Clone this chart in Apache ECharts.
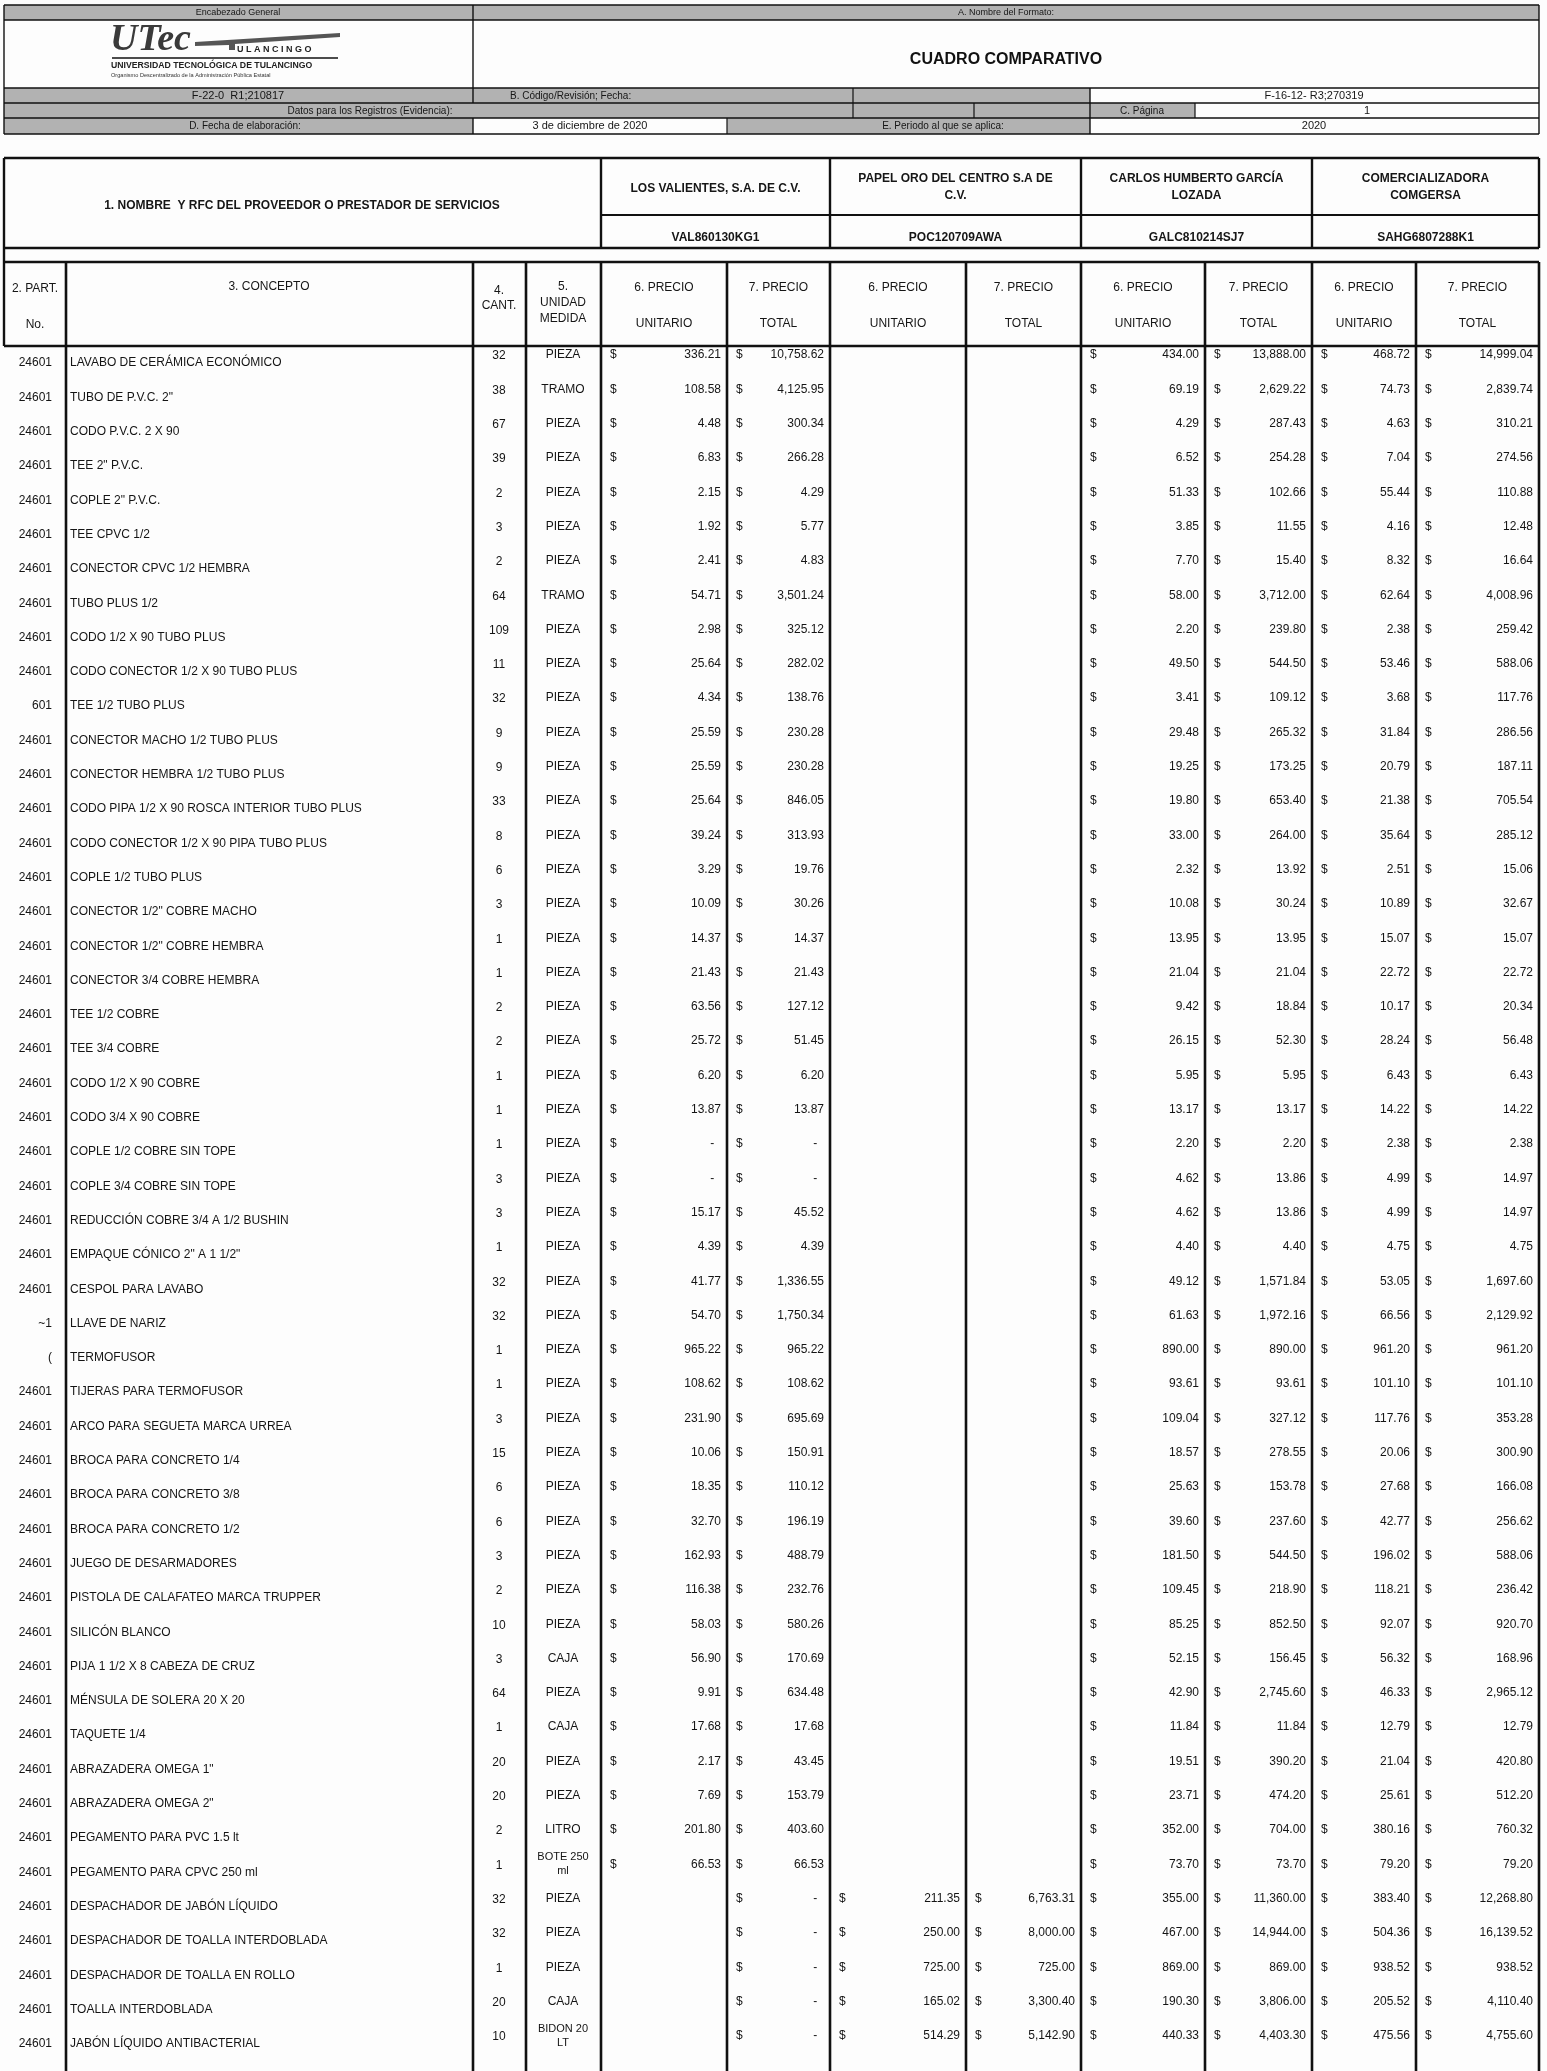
<!DOCTYPE html>
<html>
<head>
<meta charset="utf-8">
<script src="https://cdn.jsdelivr.net/npm/echarts@6/dist/echarts.min.js"></script>
<style>
  html, body { margin: 0; padding: 0; background: #fff; }
  #chart { width: 1547px; height: 2071px; }
</style>
</head>
<body>
<div id="chart"></div>
<script>
// ---- datos del cuadro comparativo ----
const partidas = ['24601','24601','24601','24601','24601','24601','24601','24601','24601','24601',
  '601','24601','24601','24601','24601','24601','24601','24601','24601','24601',
  '24601','24601','24601','24601','24601','24601','24601','24601','~1','(',
  '24601','24601','24601','24601','24601','24601','24601','24601','24601','24601',
  '24601','24601','24601','24601','24601','24601','24601','24601','24601','24601'];

const conceptos = [
  'LAVABO DE CERÁMICA ECONÓMICO', 'TUBO DE P.V.C. 2"', 'CODO P.V.C. 2 X 90', 'TEE 2" P.V.C.', 'COPLE 2" P.V.C.',
  'TEE CPVC 1/2', 'CONECTOR CPVC 1/2 HEMBRA', 'TUBO PLUS 1/2', 'CODO 1/2 X 90 TUBO PLUS', 'CODO CONECTOR 1/2 X 90 TUBO PLUS',
  'TEE 1/2 TUBO PLUS', 'CONECTOR MACHO 1/2 TUBO PLUS', 'CONECTOR HEMBRA 1/2 TUBO PLUS', 'CODO PIPA 1/2 X 90 ROSCA INTERIOR TUBO PLUS', 'CODO CONECTOR 1/2 X 90 PIPA TUBO PLUS',
  'COPLE 1/2 TUBO PLUS', 'CONECTOR 1/2" COBRE MACHO', 'CONECTOR 1/2" COBRE HEMBRA', 'CONECTOR 3/4 COBRE HEMBRA', 'TEE 1/2 COBRE',
  'TEE 3/4 COBRE', 'CODO 1/2 X 90 COBRE', 'CODO 3/4 X 90 COBRE', 'COPLE 1/2 COBRE SIN TOPE', 'COPLE 3/4 COBRE SIN TOPE',
  'REDUCCIÓN COBRE 3/4 A 1/2 BUSHIN', 'EMPAQUE CÓNICO 2" A 1 1/2"', 'CESPOL PARA LAVABO', 'LLAVE DE NARIZ', 'TERMOFUSOR',
  'TIJERAS PARA TERMOFUSOR', 'ARCO PARA SEGUETA MARCA URREA', 'BROCA PARA CONCRETO 1/4', 'BROCA PARA CONCRETO 3/8', 'BROCA PARA CONCRETO 1/2',
  'JUEGO DE DESARMADORES', 'PISTOLA DE CALAFATEO MARCA TRUPPER', 'SILICÓN BLANCO', 'PIJA 1 1/2 X 8 CABEZA DE CRUZ', 'MÉNSULA DE SOLERA 20 X 20',
  'TAQUETE 1/4', 'ABRAZADERA OMEGA 1"', 'ABRAZADERA OMEGA 2"', 'PEGAMENTO PARA PVC 1.5 lt', 'PEGAMENTO PARA CPVC 250 ml',
  'DESPACHADOR DE JABÓN LÍQUIDO', 'DESPACHADOR DE TOALLA INTERDOBLADA', 'DESPACHADOR DE TOALLA EN ROLLO', 'TOALLA INTERDOBLADA', 'JABÓN LÍQUIDO ANTIBACTERIAL'];

const cantidades = [32,38,67,39,2,3,2,64,109,11, 32,9,9,33,8,6,3,1,1,2, 2,1,1,1,3,3,1,32,32,1,
  1,3,15,6,6,3,2,10,3,64, 1,20,20,2,1,32,32,1,20,10];

const unidades = ['PIEZA','TRAMO','PIEZA','PIEZA','PIEZA','PIEZA','PIEZA','TRAMO','PIEZA','PIEZA',
  'PIEZA','PIEZA','PIEZA','PIEZA','PIEZA','PIEZA','PIEZA','PIEZA','PIEZA','PIEZA',
  'PIEZA','PIEZA','PIEZA','PIEZA','PIEZA','PIEZA','PIEZA','PIEZA','PIEZA','PIEZA',
  'PIEZA','PIEZA','PIEZA','PIEZA','PIEZA','PIEZA','PIEZA','PIEZA','CAJA','PIEZA',
  'CAJA','PIEZA','PIEZA','LITRO','BOTE 250\nml','PIEZA','PIEZA','PIEZA','CAJA','BIDON 20\nLT'];

// null = celda vacía, 0 = "$ -"
const valientesUnit = [336.21,108.58,4.48,6.83,2.15,1.92,2.41,54.71,2.98,25.64,
  4.34,25.59,25.59,25.64,39.24,3.29,10.09,14.37,21.43,63.56,
  25.72,6.20,13.87,0,0,15.17,4.39,41.77,54.70,965.22,
  108.62,231.90,10.06,18.35,32.70,162.93,116.38,58.03,56.90,9.91,
  17.68,2.17,7.69,201.80,66.53,null,null,null,null,null];
const valientesTotal = [10758.62,4125.95,300.34,266.28,4.29,5.77,4.83,3501.24,325.12,282.02,
  138.76,230.28,230.28,846.05,313.93,19.76,30.26,14.37,21.43,127.12,
  51.45,6.20,13.87,0,0,45.52,4.39,1336.55,1750.34,965.22,
  108.62,695.69,150.91,110.12,196.19,488.79,232.76,580.26,170.69,634.48,
  17.68,43.45,153.79,403.60,66.53,0,0,0,0,0];

const papelUnit = Array(45).fill(null).concat([211.35,250.00,725.00,165.02,514.29]);
const papelTotal = Array(45).fill(null).concat([6763.31,8000.00,725.00,3300.40,5142.90]);

const garciaUnit = [434.00,69.19,4.29,6.52,51.33,3.85,7.70,58.00,2.20,49.50,
  3.41,29.48,19.25,19.80,33.00,2.32,10.08,13.95,21.04,9.42,
  26.15,5.95,13.17,2.20,4.62,4.62,4.40,49.12,61.63,890.00,
  93.61,109.04,18.57,25.63,39.60,181.50,109.45,85.25,52.15,42.90,
  11.84,19.51,23.71,352.00,73.70,355.00,467.00,869.00,190.30,440.33];
const garciaTotal = [13888.00,2629.22,287.43,254.28,102.66,11.55,15.40,3712.00,239.80,544.50,
  109.12,265.32,173.25,653.40,264.00,13.92,30.24,13.95,21.04,18.84,
  52.30,5.95,13.17,2.20,13.86,13.86,4.40,1571.84,1972.16,890.00,
  93.61,327.12,278.55,153.78,237.60,544.50,218.90,852.50,156.45,2745.60,
  11.84,390.20,474.20,704.00,73.70,11360.00,14944.00,869.00,3806.00,4403.30];

const comgersaUnit = [468.72,74.73,4.63,7.04,55.44,4.16,8.32,62.64,2.38,53.46,
  3.68,31.84,20.79,21.38,35.64,2.51,10.89,15.07,22.72,10.17,
  28.24,6.43,14.22,2.38,4.99,4.99,4.75,53.05,66.56,961.20,
  101.10,117.76,20.06,27.68,42.77,196.02,118.21,92.07,56.32,46.33,
  12.79,21.04,25.61,380.16,79.20,383.40,504.36,938.52,205.52,475.56];
const comgersaTotal = [14999.04,2839.74,310.21,274.56,110.88,12.48,16.64,4008.96,259.42,588.06,
  117.76,286.56,187.11,705.54,285.12,15.06,32.67,15.07,22.72,20.34,
  56.48,6.43,14.22,2.38,14.97,14.97,4.75,1697.60,2129.92,961.20,
  101.10,353.28,300.90,166.08,256.62,588.06,236.42,920.70,168.96,2965.12,
  12.79,420.80,512.20,760.32,79.20,12268.80,16139.52,938.52,4110.40,4755.60];

const proveedores = ['LOS VALIENTES, S.A. DE C.V.', 'PAPEL ORO DEL CENTRO S.A DE\nC.V.', 'CARLOS HUMBERTO GARCÍA\nLOZADA', 'COMERCIALIZADORA\nCOMGERSA'];
const rfcs = ['VAL860130KG1', 'POC120709AWA', 'GALC810214SJ7', 'SAHG6807288K1'];

// ---- layout ----
const FONT = '"Liberation Sans", Arial, sans-serif';
const GRAY = '#b2b2b2';
// bordes de columnas del cuerpo
const colX = [4, 66, 473, 526, 601, 727, 830, 966, 1081, 1205, 1312, 1416, 1539];
const priceCols = [
  [valientesUnit, 4], [valientesTotal, 5],
  [papelUnit, 6], [papelTotal, 7],
  [garciaUnit, 8], [garciaTotal, 9],
  [comgersaUnit, 10], [comgersaTotal, 11]
];

function fmt(v) {
  return v.toFixed(2).replace(/\B(?=(\d{3})+(?!\d))/g, ',');
}

const G = [];
function box(x, y, w, h, fill) {
  G.push({ type: 'rect', silent: true, shape: { x, y, width: w, height: h }, style: { fill } });
}
function ln(x1, y1, x2, y2, lw) {
  G.push({ type: 'line', silent: true, z: 10, shape: { x1, y1, x2, y2 }, style: { stroke: '#111', lineWidth: lw || 1.2 } });
}
function tx(x, y, text, o) {
  G.push({ type: 'text', silent: true, z: 11, x, y, style: Object.assign({
    text, align: 'center', verticalAlign: 'middle', textAlign: 'center', textVerticalAlign: 'middle',
    font: '12px ' + FONT, fill: '#161616', lineHeight: 17
  }, o || {}) });
}

// encabezado general
box(4, 5, 1535, 15, GRAY);
box(4, 88, 1086, 30, GRAY);
box(1090, 103, 105, 15, GRAY);
box(4, 118, 469, 16, GRAY);
box(727, 118, 363, 16, GRAY);
[5, 20, 88, 103, 118, 134].forEach(y => ln(4, y, 1539, y, 1.4));
ln(4, 5, 4, 134, 1.4); ln(1539, 5, 1539, 134, 1.4);
ln(473, 5, 473, 103, 1.4); ln(473, 118, 473, 134, 1.4);
ln(853, 88, 853, 118); ln(974, 103, 974, 118);
ln(1090, 88, 1090, 134, 1.4); ln(1195, 103, 1195, 118); ln(727, 118, 727, 134);

tx(238, 13, 'Encabezado General', { font: '9px ' + FONT });
tx(1006, 13, 'A. Nombre del Formato:', { font: '9px ' + FONT });
tx(1006, 60, 'CUADRO COMPARATIVO', { font: 'bold 16px ' + FONT, fill: '#111' });
tx(238, 96, 'F-22-0  R1;210817', { font: '11px ' + FONT });
tx(510, 96, 'B. Código/Revisión; Fecha:', { font: '10px ' + FONT, align: 'left', textAlign: 'left' });
tx(1314, 96, 'F-16-12- R3;270319', { font: '11px ' + FONT });
tx(370, 111, 'Datos para los Registros (Evidencia):', { font: '10px ' + FONT });
tx(1142, 111, 'C. Página', { font: '10px ' + FONT });
tx(1367, 111, '1', { font: '11px ' + FONT });
tx(245, 126, 'D. Fecha de elaboración:', { font: '10px ' + FONT });
tx(590, 126, '3 de diciembre de 2020', { font: '11px ' + FONT });
tx(943, 126, 'E. Periodo al que se aplica:', { font: '10px ' + FONT });
tx(1314, 126, '2020', { font: '11px ' + FONT });

// logo UTec Tulancingo
tx(110, 40, 'UTec', { font: 'italic bold 38px "Liberation Serif", serif', fill: '#3a3a3a', align: 'left', textAlign: 'left' });
G.push({ type: 'polygon', silent: true, shape: { points: [[195, 42], [340, 33], [340, 37], [235, 44], [235, 50], [229, 50], [229, 45], [195, 46]] }, style: { fill: '#555' } });
tx(237, 50, 'U L A N C I N G O', { font: 'bold 9px ' + FONT, align: 'left', textAlign: 'left', fill: '#222' });
ln(112, 58, 338, 58, 1.3);
tx(111, 66, 'UNIVERSIDAD TECNOLÓGICA DE TULANCINGO', { font: 'bold 8.7px ' + FONT, align: 'left', textAlign: 'left', fill: '#222' });
tx(111, 75, 'Organismo Descentralizado de la Administración Pública Estatal', { font: '5.6px ' + FONT, align: 'left', textAlign: 'left', fill: '#333' });

// bloque de proveedores
ln(4, 158, 1539, 158, 2.6);
ln(601, 215, 1539, 215, 2.2);
ln(4, 248, 1539, 248, 2.4);
ln(4, 262, 1539, 262, 2.6);
ln(4, 346, 1539, 346, 2.6);
[4, 601, 830, 1081, 1312, 1539].forEach(x => ln(x, 158, x, 248, 2.4));
ln(4, 248, 4, 346, 2.4);
tx(302, 206, '1. NOMBRE  Y RFC DEL PROVEEDOR O PRESTADOR DE SERVICIOS', { font: 'bold 12px ' + FONT });
const provCols = [[601, 830], [830, 1081], [1081, 1312], [1312, 1539]];
provCols.forEach(([a, b], k) => {
  tx((a + b) / 2, k === 0 ? 189 : 187, proveedores[k], { font: 'bold 12px ' + FONT });
  tx((a + b) / 2, 238, rfcs[k], { font: 'bold 12px ' + FONT });
});

// encabezados de columna
tx(35, 289, '2. PART.'); tx(35, 325, 'No.');
tx(269, 287, '3. CONCEPTO');
tx(499, 298, '4.\nCANT.', { lineHeight: 15 });
tx(563, 303, '5.\nUNIDAD\nMEDIDA', { lineHeight: 16 });
for (let c = 4; c < 12; c++) {
  const cx = (colX[c] + colX[c + 1]) / 2;
  tx(cx, 288, (c % 2 === 0 ? '6. PRECIO' : '7. PRECIO'));
  tx(cx, 324, (c % 2 === 0 ? 'UNITARIO' : 'TOTAL'));
}
// líneas verticales del cuerpo
for (let c = 1; c < colX.length; c++) ln(colX[c], 262, colX[c], 2071, 2.6);

// ---- filas: serie personalizada sobre ejes ocultos ----
const rows = conceptos.map((_, i) => [0, i]);

function renderRow(params, api) {
  const i = api.value(1);
  const yc = api.coord([0, i])[1];
  const yn = yc - 8;
  const X = v => api.coord([v, i])[0];
  const kids = [];
  const t = (x, y, s, align, extra) => kids.push({
    type: 'text',
    style: Object.assign({ x: X(x), y, text: s, align, verticalAlign: 'middle', font: '12px ' + FONT, fill: '#141414', lineHeight: 14 }, extra || {})
  });
  t(52, yc, partidas[i], 'right');
  t(70, yc, conceptos[i], 'left');
  t(499, yn + 1, String(cantidades[i]), 'center');
  t(563, yn, unidades[i], 'center', unidades[i].indexOf('\n') >= 0 ? { font: '11px ' + FONT } : null);
  priceCols.forEach(([arr, c]) => {
    const v = arr[i];
    if (v === null) return;
    t(colX[c] + 9, yn, '$', 'left');
    t(colX[c + 1] - 6, yn, v === 0 ? '-  ' : fmt(v), 'right');
  });
  return { type: 'group', children: kids };
}

const chart = echarts.init(document.getElementById('chart'), null, { renderer: 'canvas' });
chart.setOption({
  animation: false,
  backgroundColor: '#fdfdfd',
  grid: { left: 0, right: 0, top: 346, bottom: 10 },
  xAxis: { type: 'value', min: 0, max: 1547, show: false },
  yAxis: { type: 'category', inverse: true, show: false, data: conceptos },
  graphic: { elements: G },
  series: [{
    type: 'custom',
    clip: false,
    silent: true,
    encode: { x: 0, y: 1 },
    data: rows,
    renderItem: renderRow
  }]
});
</script>
</body>
</html>
